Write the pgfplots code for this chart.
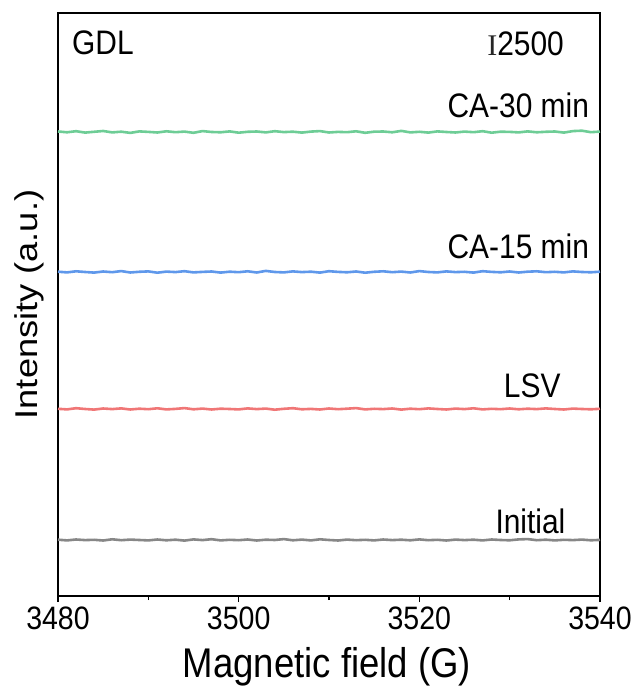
\documentclass[border=0pt]{standalone}
\usepackage{pgfplots}
\pgfplotsset{compat=1.18}
\usepackage{pgfplotstable}
\usepackage{graphicx}
\usepackage{fontspec}
\setmainfont{Liberation Sans}[FakeStretch=0.88]
\newfontfamily\ylfont{Liberation Sans}
\newfontfamily\seriffont{Liberation Serif}
\usetikzlibrary{calc}
\definecolor{cgreen}{RGB}{110,205,150}
\definecolor{cblue}{RGB}{95,152,235}
\definecolor{cred}{RGB}{240,118,118}
\definecolor{cgray}{RGB}{135,135,135}

\pgfplotstableread{
x y
3480 464.5
3481 463.7
3482 464.8
3483 463.4
3484 464.2
3485 465.0
3486 463.6
3487 464.3
3488 463.1
3489 464.6
3490 464.1
3491 463.5
3492 464.7
3493 463.8
3494 464.4
3495 463.2
3496 464.9
3497 464.0
3498 463.7
3499 464.6
3500 463.3
3501 464.2
3502 464.5
3503 463.6
3504 464.8
3505 463.9
3506 464.3
3507 463.4
3508 464.4
3509 464.9
3510 463.5
3511 464.1
3512 463.8
3513 464.7
3514 463.2
3515 464.3
3516 464.5
3517 463.7
3518 465.1
3519 463.6
3520 464.2
3521 463.4
3522 464.6
3523 464.0
3524 463.5
3525 464.4
3526 463.8
3527 464.8
3528 463.3
3529 464.3
3530 464.1
3531 463.6
3532 464.6
3533 463.7
3534 464.2
3535 464.5
3536 463.4
3537 464.9
3538 465.3
3539 463.8
3540 464.4
}\greendata

\pgfplotstableread{
x y
3480 324.3
3481 323.6
3482 324.7
3483 324.0
3484 323.4
3485 324.5
3486 323.8
3487 324.9
3488 323.5
3489 324.2
3490 324.6
3491 323.3
3492 324.4
3493 323.9
3494 324.8
3495 323.6
3496 324.1
3497 324.5
3498 323.4
3499 324.3
3500 323.8
3501 324.7
3502 323.5
3503 325.1
3504 324.0
3505 323.6
3506 324.6
3507 323.9
3508 324.3
3509 323.4
3510 324.8
3511 324.1
3512 323.7
3513 324.5
3514 323.3
3515 324.2
3516 324.7
3517 323.8
3518 324.4
3519 323.5
3520 324.9
3521 324.0
3522 323.6
3523 324.6
3524 323.9
3525 324.2
3526 323.4
3527 324.8
3528 324.1
3529 323.7
3530 324.5
3531 323.5
3532 324.3
3533 324.7
3534 323.8
3535 324.2
3536 323.6
3537 324.6
3538 324.0
3539 323.7
3540 324.3
}\bluedata

\pgfplotstableread{
x y
3480 187.2
3481 186.6
3482 187.8
3483 187.0
3484 186.4
3485 187.5
3486 186.9
3487 187.6
3488 186.5
3489 187.3
3490 186.8
3491 187.7
3492 186.6
3493 187.1
3494 187.9
3495 186.7
3496 187.4
3497 186.5
3498 187.3
3499 187.0
3500 186.6
3501 187.6
3502 186.9
3503 187.4
3504 186.3
3505 187.2
3506 187.8
3507 186.7
3508 187.1
3509 186.5
3510 187.5
3511 186.8
3512 187.3
3513 187.9
3514 186.6
3515 187.2
3516 186.9
3517 187.5
3518 186.4
3519 187.3
3520 186.8
3521 187.6
3522 187.0
3523 186.5
3524 187.4
3525 186.9
3526 187.7
3527 186.6
3528 187.2
3529 186.8
3530 187.5
3531 186.7
3532 187.3
3533 186.9
3534 187.6
3535 187.0
3536 186.5
3537 187.4
3538 187.0
3539 186.7
3540 187.2
}\reddata

\pgfplotstableread{
x y
3480 56.3
3481 55.6
3482 56.5
3483 55.9
3484 56.2
3485 55.5
3486 56.7
3487 55.8
3488 56.4
3489 56.0
3490 55.6
3491 56.5
3492 55.7
3493 56.3
3494 55.4
3495 56.6
3496 55.9
3497 56.8
3498 55.6
3499 56.2
3500 55.8
3501 56.5
3502 55.5
3503 56.3
3504 56.0
3505 56.9
3506 55.7
3507 56.4
3508 55.6
3509 56.7
3510 56.0
3511 55.5
3512 56.4
3513 55.8
3514 56.2
3515 55.6
3516 56.5
3517 55.9
3518 56.3
3519 55.7
3520 56.6
3521 55.8
3522 56.2
3523 55.5
3524 56.4
3525 55.9
3526 56.3
3527 55.6
3528 56.5
3529 56.0
3530 55.7
3531 56.6
3532 56.9
3533 55.8
3534 56.3
3535 55.6
3536 56.2
3537 55.9
3538 56.4
3539 55.7
3540 56.1
}\graydata

\begin{document}
\begin{tikzpicture}
\begin{axis}[
  name=ax,
  scale only axis,
  width=542pt, height=583pt,
  xmin=3480, xmax=3540, ymin=0, ymax=583,
  xtick={3480,3500,3520,3540},
  minor xtick={3490,3510,3530},
  ytick=\empty,
  xtick pos=lower,
  tick align=outside,
  major tick length=6pt,
  minor tick length=4pt,
  every tick/.style={black, line width=1.2pt},
  axis line style={line width=1.5pt},
  /pgf/number format/.cd, 1000 sep={}, assume math mode=true,
  /pgfplots/.cd,
  ticklabel style={font=\fontsize{32.4}{36}\selectfont},
  xticklabel style={anchor=base, yshift=-27pt},
  every axis x label/.style={at={(axis description cs:0.496,-0.139)}, anchor=base, font=\fontsize{41.5}{46}\selectfont},
  every axis y label/.style={at={(axis description cs:-0.0387,0.5)}, rotate=90, anchor=base, font=\ylfont\fontsize{31.5}{36}\selectfont},
  xlabel={Magnetic field (G)},
  ylabel={\scalebox{1.15}[1]{Intensity (a.u.)}},
  clip=false,
]
\addplot[cgreen, line width=2.6pt] table[x=x,y=y] {\greendata};
\addplot[cblue, line width=2.6pt] table[x=x,y=y] {\bluedata};
\addplot[cred, line width=2.6pt] table[x=x,y=y] {\reddata};
\addplot[cgray, line width=2.6pt] table[x=x,y=y] {\graydata};
\begin{scope}[every node/.style={font=\fontsize{34}{38}\selectfont, inner sep=0pt}]
\node[anchor=base east] at (axis cs:3538.8,478) {CA-30 min};
\node[anchor=base east] at (axis cs:3538.8,337) {CA-15 min};
\node[anchor=base] at (axis cs:3532.5,198) {LSV};
\node[anchor=base] at (axis cs:3532.3,63) {Initial};
\node[anchor=base west] at (axis cs:3481.55,541) {GDL};
\node[anchor=base west] at (axis cs:3527.5,540) {{\seriffont\fontsize{30}{34}\selectfont\color{black!85}I}2500};
\end{scope}
\end{axis}
\pgfresetboundingbox
\path ($(ax.south west)+(-58pt,-97pt)$) rectangle ($(ax.north east)+(38pt,13pt)$);
\end{tikzpicture}
\end{document}
